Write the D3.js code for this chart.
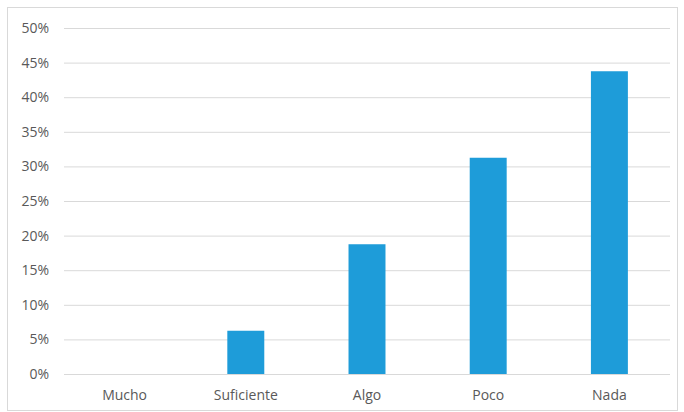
<!DOCTYPE html>
<html><head><meta charset="utf-8">
<script src="https://cdn.jsdelivr.net/npm/d3@7"></script>
<style>body{margin:0;background:#fff}svg{display:block}</style>
</head><body><svg id="c" width="684" height="412"></svg>
<script>
const categories = ["Mucho", "Suficiente", "Algo", "Poco", "Nada"];
const values = [0, 0.0625, 0.1875, 0.3125, 0.4375];
const yTicks = [0, 0.05, 0.10, 0.15, 0.20, 0.25, 0.30, 0.35, 0.40, 0.45, 0.50];

const svg = d3.select("#c");
const W = 684, H = 412;
const m = {left: 64, right: 14, top: 28, bottom: 38};
const font = "'Open Sans', sans-serif";

svg.append("rect").attr("x", 7.5).attr("y", 7.5).attr("width", 670).attr("height", 403)
  .attr("fill", "#fff").attr("stroke", "#d9d9d9");

const x = d3.scaleBand().domain(categories).range([m.left, W - m.right]).padding(0);
const y = d3.scaleLinear().domain([0, 0.5]).range([H - m.bottom, m.top]);

const yAxis = d3.axisLeft(y).tickValues(yTicks).tickFormat(d3.format(".0%"))
  .tickSize(-(W - m.left - m.right)).tickPadding(15);
const gy = svg.append("g").attr("transform", `translate(${m.left},0)`).call(yAxis);
gy.select(".domain").remove();
gy.selectAll(".tick line").attr("stroke", "#d9d9d9");
gy.selectAll(".tick text").attr("fill", "#595959").style("font-family", font).style("font-size", "14px");

const barW = x.bandwidth() * 0.305;
svg.append("g").selectAll("rect").data(categories).join("rect")
  .attr("x", (d) => x(d) + x.bandwidth() / 2 - barW / 2)
  .attr("width", barW)
  .attr("y", (d, i) => y(values[i]))
  .attr("height", (d, i) => y(0) - y(values[i]))
  .attr("fill", "#1e9cd9");

const xAxis = d3.axisBottom(x).tickSize(0).tickPadding(16);
const gx = svg.append("g").attr("transform", `translate(0,${y(0)})`).call(xAxis);
gx.select(".domain").remove();
gx.selectAll(".tick text").attr("fill", "#595959").style("font-family", font).style("font-size", "14px");
</script></body></html>
